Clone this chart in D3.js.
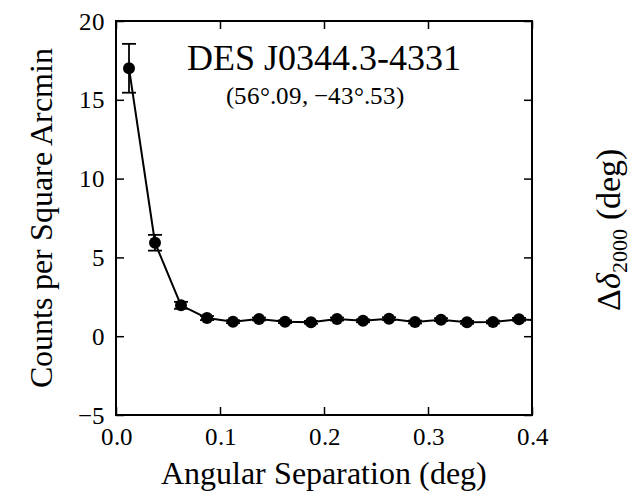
<!DOCTYPE html>
<html>
<head>
<meta charset="utf-8">
<style>
  @font-face { font-family: 'ChartSerif'; src: local('Liberation Serif'), local('LiberationSerif'), local('LiberationSerif-Regular'); font-style: normal; }
  @font-face { font-family: 'ChartSerif'; src: local('Liberation Serif Italic'), local('LiberationSerif-Italic'); font-style: italic; }
</style>
<script src="https://cdn.jsdelivr.net/npm/d3@7"></script>
</head>
<body style="margin:0;background:#fff">
<svg id="chart" width="640" height="492" style="display:block"></svg>
<script>
// radial profile, bin centres in degrees
var separation = [0.0125, 0.0375, 0.0625, 0.0875, 0.1125, 0.1375, 0.1625, 0.1875,
  0.2125, 0.2375, 0.2625, 0.2875, 0.3125, 0.3375, 0.3625, 0.3875, 0.4125];
var counts = [17.0, 5.93, 1.96, 1.15, 0.92, 1.09, 0.92, 0.88,
  1.09, 0.98, 1.11, 0.90, 1.05, 0.88, 0.90, 1.07, 1.0];
var count_err = [1.55, 0.5, 0.22, 0.13, 0.09, 0.09, 0.09, 0.09,
  0.09, 0.09, 0.09, 0.09, 0.09, 0.09, 0.09, 0.09, 0.09];

var x_ticks = [0.0, 0.1, 0.2, 0.3, 0.4];
var y_ticks = [-5, 0, 5, 10, 15, 20];

var serif = "ChartSerif, 'Liberation Serif', 'Times New Roman', Tinos, 'DejaVu Serif', serif";

var margin = {left: 116, right: 108, top: 21, bottom: 77};
var width = 640 - margin.left - margin.right;
var height = 492 - margin.top - margin.bottom;

var svg = d3.select('#chart');

var x_scale = d3.scaleLinear().domain([0, 0.4]).range([0, width]);
var y_scale = d3.scaleLinear().domain([-5, 20]).range([height, 0]);

var plot = svg.append('g')
  .attr('transform', 'translate(' + margin.left + ',' + margin.top + ')');

plot.append('clipPath')
  .attr('id', 'plot_clip')
  .append('rect')
  .attr('width', width)
  .attr('height', height);

// axes - ticks point inwards on all four sides
var tick_len = 8;

plot.append('g')
  .attr('class', 'axis')
  .attr('transform', 'translate(0,' + height + ')')
  .call(d3.axisBottom(x_scale).tickValues(x_ticks).tickFormat(d3.format('.1f'))
    .tickSize(-tick_len).tickPadding(12));

plot.append('g')
  .attr('class', 'axis')
  .call(d3.axisTop(x_scale).tickValues(x_ticks).tickFormat('')
    .tickSize(-tick_len));

plot.append('g')
  .attr('class', 'axis')
  .call(d3.axisLeft(y_scale).tickValues(y_ticks).tickFormat(d3.format('d'))
    .tickSize(-tick_len).tickPadding(11));

plot.append('g')
  .attr('class', 'axis')
  .attr('transform', 'translate(' + width + ',0)')
  .call(d3.axisRight(y_scale).tickValues(y_ticks).tickFormat('')
    .tickSize(-tick_len));

// d3 puts sans-serif on each axis group, drop it
plot.selectAll('.axis')
  .attr('font-family', null)
  .attr('font-size', null);
plot.selectAll('.axis .domain').remove();
plot.selectAll('.axis .tick line')
  .attr('stroke', '#000')
  .attr('stroke-width', 1.5);
plot.selectAll('.axis text')
  .attr('font-size', 25)
  .attr('fill', '#000');

var points = separation.map(function(d, i) {
  return {x: d, y: counts[i], e: count_err[i]};
});

var data_layer = plot.append('g').attr('clip-path', 'url(#plot_clip)');

// connecting line
var line = d3.line()
  .x(function(d) { return x_scale(d.x); })
  .y(function(d) { return y_scale(d.y); });

data_layer.append('path')
  .datum(points)
  .attr('d', line)
  .attr('fill', 'none')
  .attr('stroke', '#000')
  .attr('stroke-width', 2)
  .attr('stroke-linejoin', 'round');

// error bars with caps
var cap = 7;
var err_group = data_layer.selectAll('.err')
  .data(points)
  .enter()
  .append('g')
  .attr('class', 'err')
  .attr('stroke', '#000')
  .attr('stroke-width', 1.8);

err_group.append('line')
  .attr('x1', function(d) { return x_scale(d.x); })
  .attr('x2', function(d) { return x_scale(d.x); })
  .attr('y1', function(d) { return y_scale(d.y - d.e); })
  .attr('y2', function(d) { return y_scale(d.y + d.e); });

err_group.append('line')
  .attr('x1', function(d) { return x_scale(d.x) - cap; })
  .attr('x2', function(d) { return x_scale(d.x) + cap; })
  .attr('y1', function(d) { return y_scale(d.y + d.e); })
  .attr('y2', function(d) { return y_scale(d.y + d.e); });

err_group.append('line')
  .attr('x1', function(d) { return x_scale(d.x) - cap; })
  .attr('x2', function(d) { return x_scale(d.x) + cap; })
  .attr('y1', function(d) { return y_scale(d.y - d.e); })
  .attr('y2', function(d) { return y_scale(d.y - d.e); });

data_layer.selectAll('circle')
  .data(points)
  .enter()
  .append('circle')
  .attr('cx', function(d) { return x_scale(d.x); })
  .attr('cy', function(d) { return y_scale(d.y); })
  .attr('r', 6)
  .attr('fill', '#000');

// frame
plot.append('rect')
  .attr('width', width)
  .attr('height', height)
  .attr('fill', 'none')
  .attr('stroke', '#000')
  .attr('stroke-width', 2);

// title and coordinates
plot.append('text')
  .attr('x', width / 2)
  .attr('y', 49)
  .attr('text-anchor', 'middle')
  .attr('font-size', 36)
  .text('DES J0344.3-4331');

plot.append('text')
  .attr('x', width / 2 - 9)
  .attr('y', 83)
  .attr('text-anchor', 'middle')
  .attr('font-size', 25)
  .text('(56°.09, −43°.53)');

// axis labels
svg.append('text')
  .attr('x', margin.left + width / 2)
  .attr('y', 484)
  .attr('text-anchor', 'middle')
  .attr('font-size', 32)
  .text('Angular Separation (deg)');

svg.append('text')
  .attr('transform', 'translate(52,' + (margin.top + height / 2) + ') rotate(-90)')
  .attr('text-anchor', 'middle')
  .attr('font-size', 32)
  .text('Counts per Square Arcmin');

var right_label = svg.append('text')
  .attr('transform', 'translate(620,230) rotate(-90)')
  .attr('text-anchor', 'middle')
  .attr('font-size', 34);
right_label.append('tspan').text('Δ');
right_label.append('tspan').attr('font-style', 'italic').text('δ');
right_label.append('tspan').attr('dy', 7).attr('font-size', 22).text('2000');
right_label.append('tspan').attr('dy', -7).attr('dx', 9).text('(deg)');

svg.selectAll('text')
  .style('font-family', serif)
  .attr('fill', '#000');
</script>
</body>
</html>
